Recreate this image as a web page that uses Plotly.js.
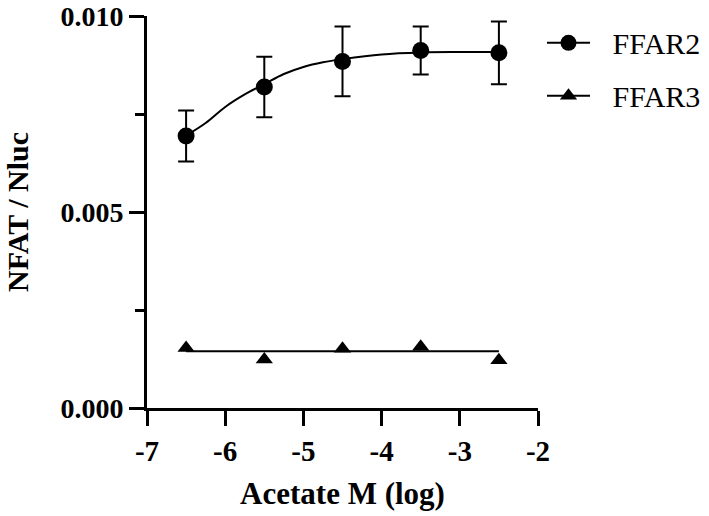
<!DOCTYPE html>
<html>
<head>
<meta charset="utf-8">
<script src="https://cdn.plot.ly/plotly-3.0.1.min.js"></script>
<style>
  body { margin: 0; background: #fff; }
  #graph { width: 709px; height: 516px; }
</style>
</head>
<body>
<div id="graph"></div>
<script>
// valores
const logConc = [-6.5, -5.5, -4.5, -3.5, -2.5];
const ffar2Mean = [0.00694, 0.00819, 0.00884, 0.00912, 0.00906];
const ffar2Err = [0.00065, 0.00077, 0.00089, 0.00061, 0.00080];
const ffar3Mean = [0.00153, 0.00124, 0.00151, 0.00156, 0.00122];

// curva de ajuste (FFAR2) leída punto a punto
const fitX = [-6.5, -6.25, -6, -5.75, -5.5, -5.25, -5, -4.75, -4.5, -4, -3.5, -3, -2.5];
const fitY = [0.00695, 0.00727, 0.00768, 0.00800, 0.00826, 0.00852, 0.00870, 0.00882, 0.00890, 0.00902, 0.00907, 0.00908, 0.00908];

// ajuste FFAR3 (línea plana)
const fit3X = [-6.5, -2.5];
const fit3Y = [0.00145, 0.00145];

// marcas de los ejes
const xTickVals = [-7, -6, -5, -4, -3, -2];
const xTickText = ['-7', '-6', '-5', '-4', '-3', '-2'];
const yTickVals = [0, 0.005, 0.010];
const yTickText = ['0.000', '0.005', '0.010'];

const serif = "Liberation Serif, Times New Roman, serif";

const traces = [
    {
        x: fitX, y: fitY, mode: 'lines', type: 'scatter',
        line: { color: 'black', width: 2, shape: 'spline' },
        showlegend: false, hoverinfo: 'skip'
    },
    {
        x: logConc, y: ffar2Mean, mode: 'markers', type: 'scatter',
        marker: { symbol: 'circle', size: 17, color: 'black' },
        error_y: { type: 'data', array: ffar2Err, visible: true, color: 'black', thickness: 2, width: 8 },
        showlegend: false
    },
    {
        x: fit3X, y: fit3Y, mode: 'lines', type: 'scatter',
        line: { color: 'black', width: 2 },
        showlegend: false, hoverinfo: 'skip'
    },
    {
        x: logConc, y: ffar3Mean, mode: 'markers', type: 'scatter',
        marker: { symbol: 'triangle-up', size: 15, color: 'black' },
        showlegend: false
    },
    // entradas de la leyenda
    {
        x: [null], y: [null], mode: 'lines+markers', type: 'scatter', name: '\u2002\u200AFFAR2',
        legendgroup: 'a',
        line: { color: 'black', width: 2 },
        marker: { symbol: 'circle', size: 17, color: 'black' }
    },
    {
        x: [null], y: [null], mode: 'lines+markers', type: 'scatter', name: '\u2002\u200AFFAR3',
        legendgroup: 'b',
        line: { color: 'black', width: 2 },
        marker: { symbol: 'triangle-up', size: 15, color: 'black' }
    }
];

const layout = {
    width: 709,
    height: 516,
    margin: { l: 147, r: 0, t: 16, b: 108 },
    paper_bgcolor: 'white',
    plot_bgcolor: 'white',
    font: { family: serif, color: 'black' },
    xaxis: {
        domain: [0, 391 / 562],
        range: [-7, -2],
        tickmode: 'array', tickvals: xTickVals, ticktext: xTickText,
        showgrid: false, zeroline: false,
        showline: true, linecolor: 'black', linewidth: 3,
        ticks: 'outside', ticklen: 15, tickwidth: 3, tickcolor: 'black',
        tickfont: { family: serif, size: 29, weight: 'bold' },
        ticklabeloverflow: 'allow',
        title: { text: '<b>Acetate M (log)</b>', font: { family: serif, size: 31 }, standoff: 17 }
    },
    yaxis: {
        range: [0, 0.010],
        tickmode: 'array', tickvals: yTickVals, ticktext: yTickText,
        showgrid: false, zeroline: false,
        showline: true, linecolor: 'black', linewidth: 3,
        ticks: 'outside', ticklen: 15, tickwidth: 3, tickcolor: 'black',
        tickfont: { family: serif, size: 28, weight: 'bold' },
        ticklabeloverflow: 'allow',
        minor: { tickmode: 'array', tickvals: [0.0025, 0.0075], ticks: 'outside', ticklen: 9, tickwidth: 3, tickcolor: 'black', showgrid: false }
    },
    annotations: [
        {
            text: '<b>NFAT / Nluc</b>',
            xref: 'x domain', yref: 'y domain',
            x: (17 - 147) / 391, y: 0.5,
            xanchor: 'center', yanchor: 'middle',
            textangle: -90, showarrow: false,
            font: { family: serif, size: 30, color: 'black' }
        }
    ],
    legend: {
        x: (542 - 147) / 562, xanchor: 'left',
        y: 0.998, yanchor: 'top',
        font: { family: serif, size: 30 },
        traceorder: 'grouped',
        tracegroupgap: 11,
        itemwidth: 43,
        bgcolor: 'rgba(0,0,0,0)'
    },
    showlegend: true
};

Plotly.newPlot('graph', traces, layout, { displayModeBar: false, staticPlot: true });
</script>
</body>
</html>
